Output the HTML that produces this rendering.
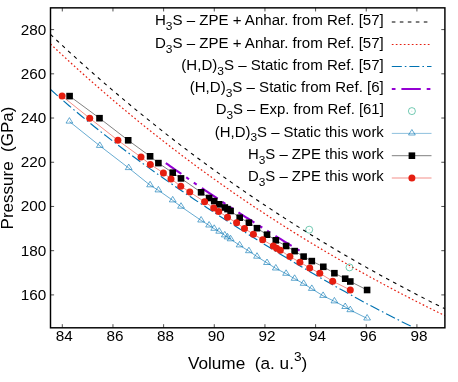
<!DOCTYPE html>
<html><head><meta charset="utf-8"><title>plot</title>
<style>
html,body{margin:0;padding:0;background:#fff;}
svg{display:block;will-change:transform;}
text{font-family:"Liberation Sans",sans-serif;fill:#000;}
</style></head><body>
<svg width="458" height="382" viewBox="0 0 458 382">
<rect width="458" height="382" fill="#fff"/>
<defs><clipPath id="cp"><rect x="50.5" y="7.85" width="394.4" height="319.95"/></clipPath></defs>

<path d="M62.30,327.8 v-3.6 M62.30,7.85 v3.6 M112.96,327.8 v-3.6 M112.96,7.85 v3.6 M163.62,327.8 v-3.6 M163.62,7.85 v3.6 M214.28,327.8 v-3.6 M214.28,7.85 v3.6 M264.94,327.8 v-3.6 M264.94,7.85 v3.6 M315.60,327.8 v-3.6 M315.60,7.85 v3.6 M366.26,327.8 v-3.6 M366.26,7.85 v3.6 M416.92,327.8 v-3.6 M416.92,7.85 v3.6 M50.5,294.90 h3.6 M444.9,294.90 h-3.6 M50.5,250.68 h3.6 M444.9,250.68 h-3.6 M50.5,206.46 h3.6 M444.9,206.46 h-3.6 M50.5,162.25 h3.6 M444.9,162.25 h-3.6 M50.5,118.03 h3.6 M444.9,118.03 h-3.6 M50.5,73.82 h3.6 M444.9,73.82 h-3.6 M50.5,29.60 h3.6 M444.9,29.60 h-3.6" stroke="#222" stroke-width="0.8" fill="none"/>
<g clip-path="url(#cp)" fill="none">
<path d="M50.50,34.47 L57.19,40.74 L63.87,46.94 L70.56,53.08 L77.25,59.16 L83.93,65.17 L90.62,71.12 L97.31,77.00 L103.99,82.82 L110.68,88.57 L117.36,94.27 L124.05,99.90 L130.74,105.47 L137.42,110.99 L144.11,116.44 L150.80,121.83 L157.48,127.16 L164.17,132.44 L170.86,137.66 L177.54,142.82 L184.23,147.93 L190.92,152.97 L197.60,157.97 L204.29,162.91 L210.97,167.79 L217.66,172.62 L224.35,177.40 L231.03,182.13 L237.72,186.80 L244.41,191.42 L251.09,195.99 L257.78,200.51 L264.47,204.98 L271.15,209.40 L277.84,213.77 L284.53,218.10 L291.21,222.38 L297.90,226.61 L304.58,230.79 L311.27,234.93 L317.96,239.02 L324.64,243.06 L331.33,247.07 L338.02,251.03 L344.70,254.94 L351.39,258.81 L358.08,262.64 L364.76,266.43 L371.45,270.18 L378.14,273.89 L384.82,277.56 L391.51,281.19 L398.19,284.78 L404.88,288.33 L411.57,291.84 L418.25,295.32 L424.94,298.76 L431.63,302.17 L438.31,305.53 L445.00,308.87" stroke="#000" stroke-width="1.1" stroke-dasharray="3.6 4.4"/>
<path d="M50.50,44.00 L57.19,50.29 L63.87,56.51 L70.56,62.66 L77.25,68.74 L83.93,74.75 L90.62,80.69 L97.31,86.57 L103.99,92.38 L110.68,98.13 L117.36,103.80 L124.05,109.42 L130.74,114.97 L137.42,120.46 L144.11,125.88 L150.80,131.25 L157.48,136.55 L164.17,141.79 L170.86,146.97 L177.54,152.09 L184.23,157.16 L190.92,162.16 L197.60,167.11 L204.29,172.00 L210.97,176.83 L217.66,181.61 L224.35,186.34 L231.03,191.01 L237.72,195.62 L244.41,200.19 L251.09,204.70 L257.78,209.16 L264.47,213.57 L271.15,217.93 L277.84,222.24 L284.53,226.50 L291.21,230.71 L297.90,234.87 L304.58,238.99 L311.27,243.06 L317.96,247.08 L324.64,251.06 L331.33,255.00 L338.02,258.89 L344.70,262.73 L351.39,266.54 L358.08,270.30 L364.76,274.02 L371.45,277.70 L378.14,281.35 L384.82,284.95 L391.51,288.51 L398.19,292.03 L404.88,295.52 L411.57,298.97 L418.25,302.39 L424.94,305.77 L431.63,309.11 L438.31,312.42 L445.00,315.70" stroke="#e51e10" stroke-width="1.2" stroke-dasharray="1.7 2.3"/>
<path d="M50.30,89.23 L56.57,94.81 L62.83,100.30 L69.10,105.70 L75.36,111.01 L81.63,116.24 L87.90,121.38 L94.16,126.45 L100.43,131.45 L106.69,136.37 L112.96,141.23 L119.23,146.02 L125.49,150.75 L131.76,155.42 L138.03,160.04 L144.29,164.60 L150.56,169.11 L156.82,173.58 L163.09,177.99 L169.36,182.37 L175.62,186.70 L181.89,190.99 L188.15,195.24 L194.42,199.45 L200.69,203.63 L206.95,207.78 L213.22,211.89 L219.48,215.97 L225.75,220.01 L232.02,224.03 L238.28,228.02 L244.55,231.98 L250.82,235.92 L257.08,239.82 L263.35,243.70 L269.61,247.55 L275.88,251.38 L282.15,255.18 L288.41,258.95 L294.68,262.69 L300.94,266.41 L307.21,270.10 L313.48,273.76 L319.74,277.39 L326.01,280.99 L332.27,284.56 L338.54,288.10 L344.81,291.60 L351.07,295.07 L357.34,298.51 L363.61,301.90 L369.87,305.26 L376.14,308.58 L382.40,311.85 L388.67,315.08 L394.94,318.26 L401.20,321.40 L407.47,324.48 L413.73,327.50 L420.00,330.48" stroke="#0072b2" stroke-width="1.15" stroke-dasharray="10 3 1.6 3"/>
<path d="M165.80,163.07 L168.09,164.68 L170.38,166.30 L172.67,167.91 L174.97,169.51 L177.26,171.12 L179.55,172.71 L181.84,174.31 L184.13,175.90 L186.42,177.48 L188.72,179.06 L191.01,180.64 L193.30,182.21 L195.59,183.78 L197.88,185.35 L200.17,186.91 L202.46,188.46 L204.76,190.02 L207.05,191.56 L209.34,193.11 L211.63,194.65 L213.92,196.19 L216.21,197.72 L218.51,199.25 L220.80,200.77 L223.09,202.29 L225.38,203.81 L227.67,205.32 L229.96,206.83 L232.25,208.33 L234.55,209.83 L236.84,211.33 L239.13,212.82 L241.42,214.30 L243.71,215.79 L246.00,217.27 L248.29,218.74 L250.59,220.21 L252.88,221.68 L255.17,223.14 L257.46,224.60 L259.75,226.06 L262.04,227.51 L264.34,228.96 L266.63,230.40 L268.92,231.84 L271.21,233.27 L273.50,234.70 L275.79,236.13 L278.08,237.55 L280.38,238.97 L282.67,240.38 L284.96,241.79 L287.25,243.20 L289.54,244.60 L291.83,246.00 L294.13,247.39 L296.42,248.78 L298.71,250.17 L301.00,251.55" stroke="#9400d3" stroke-width="2.1" stroke-dasharray="19 5.8 3.5 5.8 3.5 6.3"/>
<path d="M69.40,121.50 L99.80,145.80 L128.70,168.00 L150.10,185.20 L158.40,190.30 L172.70,200.30 L181.00,206.60 L201.10,220.40 L209.10,225.40 L214.20,228.70 L219.20,231.60 L224.80,235.30 L227.50,237.30 L230.60,239.20 L239.60,245.30 L248.90,251.10 L257.00,256.60 L267.00,262.90 L275.80,268.40 L286.10,273.70 L294.60,278.70 L303.60,283.70 L311.80,288.80 L323.10,295.80 L334.40,301.30 L345.20,306.90 L350.30,310.10 L367.10,318.40" stroke="#0072b2" stroke-width="0.6"/>
<path d="M69.60,96.10 L99.50,118.20 L128.20,140.30 L150.10,156.30 L158.40,163.10 L172.70,172.70 L181.00,178.40 L201.10,192.30 L209.10,198.00 L214.20,201.10 L219.20,204.30 L224.80,207.50 L227.50,209.10 L230.60,211.00 L239.70,217.70 L248.90,222.70 L257.00,228.20 L267.00,234.70 L275.80,240.30 L286.10,246.00 L294.60,251.10 L303.60,256.60 L311.80,261.10 L323.30,266.80 L334.40,273.20 L345.20,278.70 L350.30,281.50 L367.10,290.00" stroke="#000" stroke-width="0.5"/>
<path d="M62.10,96.10 L89.70,118.20 L117.90,140.30 L141.00,157.10 L150.30,164.40 L163.40,172.90 L171.00,178.90 L180.80,186.20 L189.80,192.00 L204.60,201.80 L213.70,208.10 L218.70,211.50 L227.50,217.30 L236.60,222.80 L244.50,228.50 L253.40,234.20 L262.70,239.70 L273.30,246.00 L276.60,248.30 L280.30,250.30 L289.90,256.60 L299.90,262.20 L309.70,267.90 L319.80,273.30 L332.70,281.20 L350.30,290.00" stroke="#e51e10" stroke-width="0.5"/>
</g>
<path d="M69.40,117.60 L72.80,123.10 L66.00,123.10 Z M99.80,141.90 L103.20,147.40 L96.40,147.40 Z M128.70,164.10 L132.10,169.60 L125.30,169.60 Z M150.10,181.30 L153.50,186.80 L146.70,186.80 Z M158.40,186.40 L161.80,191.90 L155.00,191.90 Z M172.70,196.40 L176.10,201.90 L169.30,201.90 Z M181.00,202.70 L184.40,208.20 L177.60,208.20 Z M201.10,216.50 L204.50,222.00 L197.70,222.00 Z M209.10,221.50 L212.50,227.00 L205.70,227.00 Z M214.20,224.80 L217.60,230.30 L210.80,230.30 Z M219.20,227.70 L222.60,233.20 L215.80,233.20 Z M224.80,231.40 L228.20,236.90 L221.40,236.90 Z M227.50,233.40 L230.90,238.90 L224.10,238.90 Z M230.60,235.30 L234.00,240.80 L227.20,240.80 Z M239.60,241.40 L243.00,246.90 L236.20,246.90 Z M248.90,247.20 L252.30,252.70 L245.50,252.70 Z M257.00,252.70 L260.40,258.20 L253.60,258.20 Z M267.00,259.00 L270.40,264.50 L263.60,264.50 Z M275.80,264.50 L279.20,270.00 L272.40,270.00 Z M286.10,269.80 L289.50,275.30 L282.70,275.30 Z M294.60,274.80 L298.00,280.30 L291.20,280.30 Z M303.60,279.80 L307.00,285.30 L300.20,285.30 Z M311.80,284.90 L315.20,290.40 L308.40,290.40 Z M323.10,291.90 L326.50,297.40 L319.70,297.40 Z M334.40,297.40 L337.80,302.90 L331.00,302.90 Z M345.20,303.00 L348.60,308.50 L341.80,308.50 Z M350.30,306.20 L353.70,311.70 L346.90,311.70 Z M367.10,314.50 L370.50,320.00 L363.70,320.00 Z" stroke="#0072b2" stroke-width="0.6" fill="none"/>
<circle cx="309.2" cy="229.7" r="3.5" stroke="#009e73" stroke-width="0.55" fill="none"/><circle cx="309.2" cy="229.7" r="0.45" fill="#009e73" opacity="0.6"/>
<circle cx="349.5" cy="267.4" r="3.5" stroke="#009e73" stroke-width="0.55" fill="none"/><circle cx="349.5" cy="267.4" r="0.45" fill="#009e73" opacity="0.6"/>
<g fill="#000"><rect x="66.30" y="92.80" width="6.6" height="6.6"/><rect x="96.20" y="114.90" width="6.6" height="6.6"/><rect x="124.90" y="137.00" width="6.6" height="6.6"/><rect x="146.80" y="153.00" width="6.6" height="6.6"/><rect x="155.10" y="159.80" width="6.6" height="6.6"/><rect x="169.40" y="169.40" width="6.6" height="6.6"/><rect x="177.70" y="175.10" width="6.6" height="6.6"/><rect x="197.80" y="189.00" width="6.6" height="6.6"/><rect x="205.80" y="194.70" width="6.6" height="6.6"/><rect x="210.90" y="197.80" width="6.6" height="6.6"/><rect x="215.90" y="201.00" width="6.6" height="6.6"/><rect x="221.50" y="204.20" width="6.6" height="6.6"/><rect x="224.20" y="205.80" width="6.6" height="6.6"/><rect x="227.30" y="207.70" width="6.6" height="6.6"/><rect x="236.40" y="214.40" width="6.6" height="6.6"/><rect x="245.60" y="219.40" width="6.6" height="6.6"/><rect x="253.70" y="224.90" width="6.6" height="6.6"/><rect x="263.70" y="231.40" width="6.6" height="6.6"/><rect x="272.50" y="237.00" width="6.6" height="6.6"/><rect x="282.80" y="242.70" width="6.6" height="6.6"/><rect x="291.30" y="247.80" width="6.6" height="6.6"/><rect x="300.30" y="253.30" width="6.6" height="6.6"/><rect x="308.50" y="257.80" width="6.6" height="6.6"/><rect x="320.00" y="263.50" width="6.6" height="6.6"/><rect x="331.10" y="269.90" width="6.6" height="6.6"/><rect x="341.90" y="275.40" width="6.6" height="6.6"/><rect x="347.00" y="278.20" width="6.6" height="6.6"/><rect x="363.80" y="286.70" width="6.6" height="6.6"/></g>
<g fill="#e51e10"><circle cx="62.10" cy="96.10" r="3.5"/><circle cx="89.70" cy="118.20" r="3.5"/><circle cx="117.90" cy="140.30" r="3.5"/><circle cx="141.00" cy="157.10" r="3.5"/><circle cx="150.30" cy="164.40" r="3.5"/><circle cx="163.40" cy="172.90" r="3.5"/><circle cx="171.00" cy="178.90" r="3.5"/><circle cx="180.80" cy="186.20" r="3.5"/><circle cx="189.80" cy="192.00" r="3.5"/><circle cx="204.60" cy="201.80" r="3.5"/><circle cx="213.70" cy="208.10" r="3.5"/><circle cx="218.70" cy="211.50" r="3.5"/><circle cx="227.50" cy="217.30" r="3.5"/><circle cx="236.60" cy="222.80" r="3.5"/><circle cx="244.50" cy="228.50" r="3.5"/><circle cx="253.40" cy="234.20" r="3.5"/><circle cx="262.70" cy="239.70" r="3.5"/><circle cx="273.30" cy="246.00" r="3.5"/><circle cx="276.60" cy="248.30" r="3.5"/><circle cx="280.30" cy="250.30" r="3.5"/><circle cx="289.90" cy="256.60" r="3.5"/><circle cx="299.90" cy="262.20" r="3.5"/><circle cx="309.70" cy="267.90" r="3.5"/><circle cx="319.80" cy="273.30" r="3.5"/><circle cx="332.70" cy="281.20" r="3.5"/><circle cx="350.30" cy="290.00" r="3.5"/></g>
<rect x="50.5" y="7.85" width="394.4" height="319.95" fill="none" stroke="#000" stroke-width="1.45"/>
<text x="64.30" y="341.3" font-size="15.3" text-anchor="middle">84</text>
<text x="114.96" y="341.3" font-size="15.3" text-anchor="middle">86</text>
<text x="165.62" y="341.3" font-size="15.3" text-anchor="middle">88</text>
<text x="216.28" y="341.3" font-size="15.3" text-anchor="middle">90</text>
<text x="266.94" y="341.3" font-size="15.3" text-anchor="middle">92</text>
<text x="317.60" y="341.3" font-size="15.3" text-anchor="middle">94</text>
<text x="368.26" y="341.3" font-size="15.3" text-anchor="middle">96</text>
<text x="418.92" y="341.3" font-size="15.3" text-anchor="middle">98</text>
<text x="46.2" y="299.90" font-size="15.3" text-anchor="end">160</text>
<text x="46.2" y="255.68" font-size="15.3" text-anchor="end">180</text>
<text x="46.2" y="211.46" font-size="15.3" text-anchor="end">200</text>
<text x="46.2" y="167.25" font-size="15.3" text-anchor="end">220</text>
<text x="46.2" y="123.03" font-size="15.3" text-anchor="end">240</text>
<text x="46.2" y="78.82" font-size="15.3" text-anchor="end">260</text>
<text x="46.2" y="34.60" font-size="15.3" text-anchor="end">280</text>
<text x="247.6" y="369" font-size="17.2" text-anchor="middle" xml:space="preserve">Volume  (a. u.<tspan font-size="13.7" dy="-8.3">3</tspan><tspan dy="8.3">)</tspan></text>
<text transform="translate(13.0,168) rotate(-90)" font-size="17" text-anchor="middle" xml:space="preserve">Pressure  (GPa)</text>
<text transform="translate(383.8,25.20) scale(1.025,1)" font-size="14.7" text-anchor="end">H<tspan font-size="11.7" dy="4.8">3</tspan><tspan dy="-4.8">S</tspan> – ZPE + Anhar. from Ref. [57]</text>
<text transform="translate(383.8,47.70) scale(1.025,1)" font-size="14.7" text-anchor="end">D<tspan font-size="11.7" dy="4.8">3</tspan><tspan dy="-4.8">S</tspan> – ZPE + Anhar. from Ref. [57]</text>
<text transform="translate(383.8,69.70) scale(1.025,1)" font-size="14.7" text-anchor="end">(H,D)<tspan font-size="11.7" dy="4.8">3</tspan><tspan dy="-4.8">S</tspan> – Static from Ref. [57]</text>
<text transform="translate(383.8,92.20) scale(1.025,1)" font-size="14.7" text-anchor="end">(H,D)<tspan font-size="11.7" dy="4.8">3</tspan><tspan dy="-4.8">S</tspan> – Static from Ref. [6]</text>
<text transform="translate(383.8,114.30) scale(1.015,1)" font-size="14.7" text-anchor="end">D<tspan font-size="11.7" dy="4.8">3</tspan><tspan dy="-4.8">S</tspan> – Exp. from Ref. [61]</text>
<text transform="translate(383.8,136.60) scale(1.015,1)" font-size="14.7" text-anchor="end">(H,D)<tspan font-size="11.7" dy="4.8">3</tspan><tspan dy="-4.8">S</tspan> – Static this work</text>
<text transform="translate(383.8,158.90) scale(1.015,1)" font-size="14.7" text-anchor="end">H<tspan font-size="11.7" dy="4.8">3</tspan><tspan dy="-4.8">S</tspan> – ZPE this work</text>
<text transform="translate(383.8,181.20) scale(1.015,1)" font-size="14.7" text-anchor="end">D<tspan font-size="11.7" dy="4.8">3</tspan><tspan dy="-4.8">S</tspan> – ZPE this work</text>
<path d="M391.8,22.0 H431.5" stroke="#000" stroke-width="1.1" stroke-dasharray="3.6 4.4"/>
<path d="M391.8,44.5 H431.5" stroke="#e51e10" stroke-width="1.2" stroke-dasharray="1.7 2.3"/>
<path d="M391.8,66.5 H431.5" stroke="#0072b2" stroke-width="1.15" stroke-dasharray="10 3 1.6 3"/>
<path d="M391.8,89 H431.5" stroke="#9400d3" stroke-width="2.1" stroke-dasharray="19.4 5.9 3.7 5.9 3.7 5.9" stroke-dashoffset="34.9"/>
<circle cx="411.9" cy="111.1" r="3.5" stroke="#009e73" stroke-width="0.55" fill="none"/><circle cx="411.9" cy="111.1" r="0.45" fill="#009e73" opacity="0.6"/>
<path d="M391.8,133.4 H431.5" stroke="#0072b2" stroke-width="0.45"/><path d="M411.90,129.50 L415.30,135.00 L408.50,135.00 Z" stroke="#0072b2" stroke-width="0.6" fill="none"/>
<path d="M391.8,155.7 H431.5" stroke="#000" stroke-width="0.5"/><rect x="408.59999999999997" y="152.39999999999998" width="6.6" height="6.6" fill="#000"/>
<path d="M391.8,178 H431.5" stroke="#e51e10" stroke-width="0.5"/><circle cx="411.9" cy="178" r="3.5" fill="#e51e10"/>
</svg></body></html>
